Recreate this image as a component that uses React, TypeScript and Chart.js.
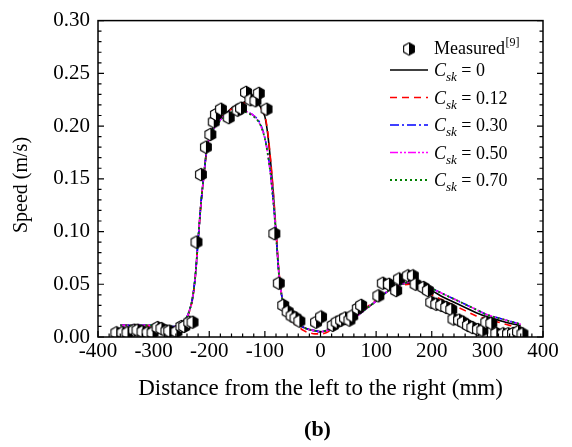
import React, { useEffect, useRef } from 'react';
import { Chart, registerables } from 'chart.js';

Chart.register(...registerables);

// ---- Data ----
const measuredX = [
  -367, -356, -347, -335, -329, -320, -311, -302, -293, -286,
  -277, -272, -259, -250, -245, -236, -230, -223, -215, -206,
  -198, -192, -188, -179, -165, -149, -143, -134, -126, -117,
  -111, -97, -83, -75, -67, -59, -52, -45, -38, -8,
  1, 22, 29, 37, 44, 52, 57, 67, 73, 104,
  112, 123, 136, 141, 157, 166, 171, 185, 193, 199,
  208, 217, 226, 235, 239, 249, 256, 265, 273, 283,
  291, 298, 307, 316, 328, 337, 346, 355, 363,
];
const measuredY = [
  0.004, 0.004, 0.004, 0.0065, 0.0065, 0.005, 0.004, 0.004, 0.009, 0.008,
  0.0056, 0.0056, 0.005, 0.010, 0.010, 0.014, 0.014, 0.090, 0.154, 0.180,
  0.192, 0.204, 0.211, 0.216, 0.208, 0.215, 0.217, 0.232, 0.225, 0.224,
  0.231, 0.216, 0.098, 0.051, 0.030, 0.024, 0.020, 0.018, 0.015, 0.014,
  0.019, 0.011, 0.014, 0.016, 0.018, 0.016, 0.020, 0.027, 0.030, 0.039,
  0.051, 0.050, 0.044, 0.055, 0.058, 0.058, 0.050, 0.047, 0.044, 0.033,
  0.031, 0.030, 0.028, 0.026, 0.017, 0.016, 0.014, 0.011, 0.009, 0.007,
  0.0065, 0.014, 0.013, 0.0034, 0.003, 0.003, 0.0034, 0.005, 0.003,
];

const curveX = [
  -360, -340, -320, -300, -280, -260, -250, -240, -235, -230,
  -225, -220, -215, -210, -205, -200, -190, -180, -170, -160,
  -150, -140, -130, -120, -110, -105, -100, -95, -90, -85,
  -80, -75, -70, -65, -60, -50, -40, -30, -20, -10,
  0, 10, 20, 40, 60, 80, 100, 120, 140, 160,
  180, 200, 220, 240, 260, 280, 300, 320, 340, 360,
];
const cskZero = [
  0.011, 0.011, 0.011, 0.011, 0.010, 0.010, 0.012, 0.019, 0.026, 0.037,
  0.058, 0.092, 0.126, 0.152, 0.176, 0.190, 0.202, 0.208, 0.212, 0.217,
  0.220, 0.222, 0.224, 0.224, 0.220, 0.215, 0.209, 0.193, 0.168, 0.137,
  0.100, 0.062, 0.040, 0.029, 0.023, 0.016, 0.012, 0.009, 0.007, 0.006,
  0.005, 0.006, 0.008, 0.013, 0.018, 0.026, 0.034, 0.043, 0.049, 0.051,
  0.049, 0.044, 0.038, 0.033, 0.028, 0.023, 0.019, 0.016, 0.013, 0.011,
];
const cskP12 = [
  0.011, 0.011, 0.011, 0.010, 0.009, 0.009, 0.011, 0.018, 0.025, 0.036,
  0.057, 0.091, 0.125, 0.151, 0.175, 0.189, 0.201, 0.207, 0.212, 0.216,
  0.219, 0.221, 0.223, 0.223, 0.219, 0.215, 0.210, 0.195, 0.170, 0.139,
  0.102, 0.064, 0.041, 0.029, 0.022, 0.015, 0.010, 0.006, 0.004, 0.003,
  0.003, 0.004, 0.007, 0.013, 0.019, 0.027, 0.035, 0.043, 0.048, 0.050,
  0.045, 0.040, 0.035, 0.030, 0.025, 0.020, 0.017, 0.014, 0.011, 0.009,
];
const cskP30 = [
  0.011, 0.011, 0.011, 0.011, 0.010, 0.010, 0.012, 0.019, 0.026, 0.037,
  0.058, 0.092, 0.126, 0.152, 0.175, 0.188, 0.199, 0.206, 0.211, 0.214,
  0.215, 0.215, 0.213, 0.210, 0.204, 0.198, 0.189, 0.175, 0.156, 0.130,
  0.098, 0.061, 0.040, 0.029, 0.023, 0.016, 0.012, 0.009, 0.007, 0.006,
  0.005, 0.006, 0.008, 0.013, 0.018, 0.026, 0.034, 0.043, 0.049, 0.052,
  0.050, 0.046, 0.041, 0.036, 0.031, 0.026, 0.021, 0.018, 0.015, 0.012,
];
const cskP50 = [
  0.011, 0.011, 0.011, 0.011, 0.010, 0.010, 0.012, 0.019, 0.026, 0.037,
  0.058, 0.092, 0.126, 0.152, 0.175, 0.188, 0.199, 0.206, 0.211, 0.214,
  0.215, 0.215, 0.213, 0.210, 0.203, 0.197, 0.188, 0.174, 0.155, 0.129,
  0.098, 0.061, 0.040, 0.029, 0.023, 0.016, 0.012, 0.009, 0.007, 0.006,
  0.005, 0.006, 0.008, 0.013, 0.018, 0.026, 0.034, 0.043, 0.049, 0.052,
  0.050, 0.046, 0.041, 0.036, 0.031, 0.026, 0.021, 0.018, 0.015, 0.012,
];
const cskP70 = [
  0.011, 0.011, 0.011, 0.011, 0.010, 0.010, 0.012, 0.019, 0.026, 0.037,
  0.058, 0.092, 0.126, 0.152, 0.175, 0.188, 0.199, 0.205, 0.210, 0.213,
  0.214, 0.214, 0.212, 0.209, 0.203, 0.197, 0.188, 0.174, 0.155, 0.129,
  0.097, 0.061, 0.040, 0.029, 0.023, 0.016, 0.012, 0.009, 0.007, 0.006,
  0.005, 0.006, 0.008, 0.013, 0.018, 0.026, 0.034, 0.043, 0.049, 0.052,
  0.050, 0.046, 0.041, 0.036, 0.031, 0.026, 0.021, 0.018, 0.015, 0.012,
];

const seriesLabels = ['0', '0.12', '0.30', '0.50', '0.70'];
const xAxisTitle = 'Distance from the left to the right (mm)';
const yAxisTitle = 'Speed (m/s)';
const measuredLabel = 'Measured';
const measuredRef = '[9]';
const caption = '(b)';

// ---- Styles ----
const SERIF = '"Liberation Serif", "Times New Roman", Times, serif';
const lineStyles = [
  { color: '#000000', dash: [] as number[], width: 1.6, order: 5 },
  { color: '#ff0000', dash: [7, 5], width: 1.6, order: 4 },
  { color: '#0000ff', dash: [9, 3, 2, 3], width: 1.6, order: 3 },
  { color: '#ff00ff', dash: [8, 2, 2, 2, 2, 2], width: 1.6, order: 2 },
  { color: '#008000', dash: [2, 3], width: 1.8, order: 1 },
];

function makeHexagon(): HTMLCanvasElement {
  const c = document.createElement('canvas');
  c.width = 14;
  c.height = 15;
  const ctx = c.getContext('2d')!;
  const cx = 7, cy = 7.5, r = 6.2;
  const dx = r * Math.cos(Math.PI / 6);
  const pts: [number, number][] = [
    [cx, cy - r], [cx + dx, cy - r / 2], [cx + dx, cy + r / 2],
    [cx, cy + r], [cx - dx, cy + r / 2], [cx - dx, cy - r / 2],
  ];
  ctx.beginPath();
  pts.forEach(([px, py], i) => (i ? ctx.lineTo(px, py) : ctx.moveTo(px, py)));
  ctx.closePath();
  ctx.fillStyle = '#ffffff';
  ctx.fill();
  ctx.beginPath();
  ctx.moveTo(cx, cy - r);
  ctx.lineTo(cx + dx, cy - r / 2);
  ctx.lineTo(cx + dx, cy + r / 2);
  ctx.lineTo(cx, cy + r);
  ctx.closePath();
  ctx.fillStyle = '#000000';
  ctx.fill();
  ctx.beginPath();
  pts.forEach(([px, py], i) => (i ? ctx.lineTo(px, py) : ctx.moveTo(px, py)));
  ctx.closePath();
  ctx.lineWidth = 1.1;
  ctx.strokeStyle = '#000000';
  ctx.stroke();
  return c;
}

export default function App() {
  const ref = useRef<HTMLCanvasElement>(null);

  useEffect(() => {
    const canvas = ref.current;
    if (!canvas) return;
    const hex = makeHexagon();
    const curves = [cskZero, cskP12, cskP30, cskP50, cskP70];

    const framePlugin = {
      id: 'frame',
      afterDatasetsDraw(chart: any) {
        const { ctx, chartArea: a, scales } = chart;
        const x = scales.x, y = scales.y;
        ctx.save();
        ctx.strokeStyle = '#000';
        ctx.lineWidth = 1.5;
        ctx.strokeRect(a.left, a.top, a.right - a.left, a.bottom - a.top);
        ctx.lineWidth = 1.2;
        ctx.beginPath();
        for (let v = -400; v <= 400; v += 20) {
          const px = x.getPixelForValue(v);
          const len = v % 100 === 0 ? 6 : 3.5;
          ctx.moveTo(px, a.bottom);
          ctx.lineTo(px, a.bottom - len);
        }
        for (let i = 0; i <= 30; i++) {
          const py = y.getPixelForValue(i / 100);
          const len = i % 5 === 0 ? 6 : 3.5;
          ctx.moveTo(a.left, py);
          ctx.lineTo(a.left + len, py);
          ctx.moveTo(a.right, py);
          ctx.lineTo(a.right - len, py);
        }
        ctx.stroke();
        ctx.restore();
      },
      afterDraw(chart: any) {
        const { ctx, chartArea: a } = chart;
        ctx.save();
        ctx.fillStyle = '#000';
        // y-axis title
        ctx.save();
        ctx.translate(22, 185);
        ctx.rotate(-Math.PI / 2);
        ctx.font = `20px ${SERIF}`;
        ctx.textAlign = 'center';
        ctx.textBaseline = 'middle';
        ctx.fillText(yAxisTitle, 0, 0);
        ctx.restore();
        // caption
        ctx.font = `bold 22px ${SERIF}`;
        ctx.textAlign = 'center';
        ctx.textBaseline = 'middle';
        ctx.fillText(caption, (a.left + a.right) / 2 - 3, 430);

        // legend
        ctx.textAlign = 'left';
        ctx.textBaseline = 'alphabetic';
        ctx.drawImage(hex, 409 - hex.width / 2, 49 - hex.height / 2);
        ctx.font = `18px ${SERIF}`;
        ctx.fillText(measuredLabel, 434, 54);
        const mw = ctx.measureText(measuredLabel).width;
        ctx.font = `12px ${SERIF}`;
        ctx.fillText(measuredRef, 434 + mw + 0.5, 46);

        const rowsY = [70, 97.5, 125, 152.5, 180];
        seriesLabels.forEach((lab, i) => {
          const st = lineStyles[i];
          const ry = rowsY[i];
          ctx.save();
          ctx.strokeStyle = st.color;
          ctx.lineWidth = st.width;
          ctx.setLineDash(st.dash);
          ctx.beginPath();
          ctx.moveTo(390, ry);
          ctx.lineTo(428, ry);
          ctx.stroke();
          ctx.restore();
          let tx = 434;
          ctx.font = `italic 18px ${SERIF}`;
          ctx.fillText('C', tx, ry + 6);
          tx += ctx.measureText('C').width;
          ctx.font = `italic 13px ${SERIF}`;
          ctx.fillText('sk', tx, ry + 11);
          tx += ctx.measureText('sk').width;
          ctx.font = `18px ${SERIF}`;
          ctx.fillText(' = ' + lab, tx, ry + 6);
        });
        ctx.restore();
      },
    };

    const datasets: any[] = [
      {
        label: measuredLabel,
        data: measuredX.map((x, i) => ({ x, y: measuredY[i] })),
        showLine: false,
        pointStyle: hex,
        pointRadius: 6,
        order: 0,
        clip: 0,
      },
      ...curves.map((vals, i) => ({
        label: 'Csk = ' + seriesLabels[i],
        data: curveX.map((x, j) => ({ x, y: vals[j] })),
        showLine: true,
        pointRadius: 0,
        borderColor: lineStyles[i].color,
        backgroundColor: lineStyles[i].color,
        borderWidth: lineStyles[i].width,
        borderDash: lineStyles[i].dash,
        cubicInterpolationMode: 'monotone',
        fill: false,
        order: lineStyles[i].order,
      })),
    ];

    const chart = new Chart(canvas, {
      type: 'scatter',
      data: { datasets },
      options: {
        responsive: false,
        animation: false,
        devicePixelRatio: 1,
        layout: { padding: { left: 0, right: 29, top: 14, bottom: 0 } },
        plugins: {
          legend: { display: false },
          tooltip: { enabled: false },
        },
        scales: {
          x: {
            type: 'linear',
            min: -400,
            max: 400,
            ticks: {
              stepSize: 100,
              color: '#000',
              font: { family: SERIF, size: 21 },
              padding: 2,
              maxRotation: 0,
              autoSkip: false,
              callback: (v: any) => String(v),
            },
            grid: { display: false, drawTicks: false },
            border: { display: false },
            title: {
              display: true,
              text: xAxisTitle,
              color: '#000',
              font: { family: SERIF, size: 23 },
              padding: { top: 0, bottom: 44 },
            },
            afterFit: (s: any) => { s.height = 110; },
          },
          y: {
            type: 'linear',
            min: 0,
            max: 0.3,
            ticks: {
              stepSize: 0.05,
              color: '#000',
              font: { family: SERIF, size: 21 },
              padding: 8,
              callback: (v: any) => Number(v).toFixed(2),
            },
            grid: { display: false, drawTicks: false },
            border: { display: false },
            afterFit: (s: any) => { s.width = 98; },
          },
        },
      },
      plugins: [framePlugin],
    } as any);

    return () => chart.destroy();
  }, []);

  return (
    <div style={{ position: 'absolute', left: 0, top: 0, width: 572, height: 447, background: '#fff' }}>
      <canvas ref={ref} width={572} height={447} style={{ display: 'block', width: 572, height: 447 }} />
    </div>
  );
}
